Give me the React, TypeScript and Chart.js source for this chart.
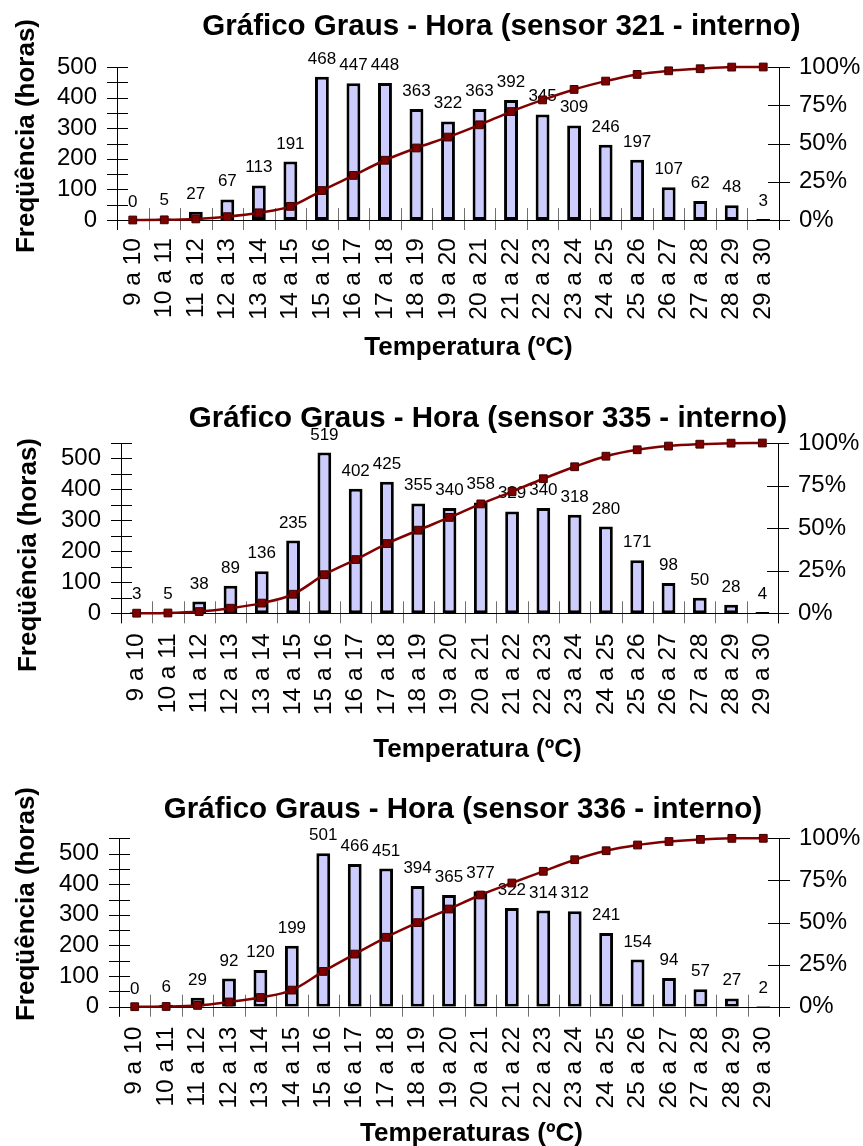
import React, { useEffect, useRef } from "react";
import { Chart, registerables } from "chart.js";
Chart.register(...registerables);

const FONT = "'Liberation Sans', Arial, sans-serif";

const categories = [
  "9 a 10", "10 a 11", "11 a 12", "12 a 13", "13 a 14", "14 a 15", "15 a 16",
  "16 a 17", "17 a 18", "18 a 19", "19 a 20", "20 a 21", "21 a 22", "22 a 23",
  "23 a 24", "24 a 25", "25 a 26", "26 a 27", "27 a 28", "28 a 29", "29 a 30",
];

const freq321 = [0, 5, 27, 67, 113, 191, 468, 447, 448, 363, 322, 363, 392, 345, 309, 246, 197, 107, 62, 48, 3];
const cum321 = [0, 0.11, 0.71, 2.19, 4.69, 8.91, 19.26, 29.14, 39.04, 47.07, 54.19, 62.22, 70.88, 78.51, 85.34, 90.78, 95.14, 97.5, 98.87, 99.93, 100];

const freq335 = [3, 5, 38, 89, 136, 235, 519, 402, 425, 355, 340, 358, 329, 340, 318, 280, 171, 98, 50, 28, 4];
const cum335 = [0.07, 0.18, 1.02, 2.98, 5.99, 11.19, 22.66, 31.55, 40.95, 48.8, 56.31, 64.23, 71.5, 79.02, 86.05, 92.24, 96.02, 98.19, 99.29, 99.91, 100];

const freq336 = [0, 6, 29, 92, 120, 199, 501, 466, 451, 394, 365, 377, 322, 314, 312, 241, 154, 94, 57, 27, 2];
const cum336 = [0, 0.13, 0.77, 2.81, 5.46, 9.86, 20.94, 31.24, 41.21, 49.92, 57.99, 66.33, 73.45, 80.39, 87.29, 92.62, 96.02, 98.1, 99.36, 99.96, 100];

const leftMax = [500, 550, 550];
const rightTickSuffix = "%";
const yAxisTitle = "Freqüência (horas)";
const chartTitles = [
  "Gráfico Graus - Hora (sensor 321 - interno)",
  "Gráfico Graus - Hora (sensor 335 - interno)",
  "Gráfico Graus - Hora (sensor 336 - interno)",
];
const xAxisTitles = ["Temperatura (ºC)", "Temperatura (ºC)", "Temperaturas (ºC)"];

type Spec = {
  title: string;
  xTitle: string;
  freq: number[];
  cum: number[];
  yMax: number;
  top: number;
  height: number;
  labelPad: number;
  area: { left: number; right: number; top: number; bottom: number };
  titleAt: [number, number];
  yTitleAt: [number, number];
  xTitleAt: [number, number];
};

const W = 863;

const specs: Spec[] = [
  {
    title: chartTitles[0], xTitle: xAxisTitles[0], freq: freq321, cum: cum321, yMax: leftMax[0],
    top: 0, height: 380, labelPad: 18,
    area: { left: 117, right: 779, top: 67, bottom: 220 },
    titleAt: [501.5, 35], yTitleAt: [27, 136], xTitleAt: [468.5, 355],
  },
  {
    title: chartTitles[1], xTitle: xAxisTitles[1], freq: freq335, cum: cum335, yMax: leftMax[1],
    top: 380, height: 383, labelPad: 20,
    area: { left: 121, right: 778, top: 63, bottom: 233.3 },
    titleAt: [488, 47], yTitleAt: [29, 175], xTitleAt: [477.5, 377],
  },
  {
    title: chartTitles[2], xTitle: xAxisTitles[2], freq: freq336, cum: cum336, yMax: leftMax[2],
    top: 763, height: 383, labelPad: 20,
    area: { left: 119, right: 779, top: 75.3, bottom: 243.7 },
    titleAt: [463, 55], yTitleAt: [27, 141], xTitleAt: [471.5, 378],
  },
];

function ChartBox({ spec }: { spec: Spec }) {
  const ref = useRef<HTMLCanvasElement>(null);
  useEffect(() => {
    const canvas = ref.current!;
    const s = spec;
    const px = (v: number) => Math.round(v) + 0.5;

    const decor = {
      id: "decor",
      beforeDatasetsDraw(chart: any) {
        const ctx = chart.ctx as CanvasRenderingContext2D;
        const a = chart.chartArea;
        const ys = chart.scales.y;
        const y1s = chart.scales.y1;
        const n = categories.length;
        const cw = (a.right - a.left) / n;
        ctx.save();
        ctx.lineWidth = 1;
        const seg = (x1: number, y1: number, x2: number, y2: number) => {
          ctx.beginPath();
          ctx.moveTo(x1, y1);
          ctx.lineTo(x2, y2);
          ctx.stroke();
        };
        ctx.strokeStyle = "#707070";
        for (let i = 0; i <= n; i++) {
          const x = px(a.left + i * cw);
          seg(x, a.bottom - 12, x, a.bottom + 10);
        }
        ctx.strokeStyle = "#000";
        seg(a.left - 10, px(a.bottom), a.right, px(a.bottom));
        const lx = px(a.left);
        seg(lx, a.top, lx, a.bottom + 10);
        for (const t of ys.ticks) {
          const y = px(ys.getPixelForValue(t.value));
          seg(a.left - 10, y, a.left + 11, y);
        }
        const rx = px(a.right);
        seg(rx, a.top, rx, a.bottom + 10);
        for (const t of y1s.ticks) {
          const y = px(y1s.getPixelForValue(t.value));
          seg(a.right - 11, y, a.right + 11, y);
        }
        ctx.restore();
      },
      afterDatasetDraw(chart: any, args: any) {
        if (args.index !== 1) return;
        const ctx = chart.ctx as CanvasRenderingContext2D;
        const meta = chart.getDatasetMeta(1);
        ctx.save();
        ctx.font = `17px ${FONT}`;
        ctx.fillStyle = "#000";
        ctx.textAlign = "center";
        ctx.textBaseline = "alphabetic";
        meta.data.forEach((el: any, i: number) => {
          ctx.fillText(String(s.freq[i]), el.x, el.y - 13);
        });
        ctx.restore();
      },
      afterDraw(chart: any) {
        const ctx = chart.ctx as CanvasRenderingContext2D;
        ctx.save();
        ctx.fillStyle = "#000";
        ctx.textAlign = "center";
        ctx.textBaseline = "alphabetic";
        ctx.font = `bold 29.5px ${FONT}`;
        ctx.fillText(s.title, s.titleAt[0], s.titleAt[1]);
        ctx.font = `bold 26px ${FONT}`;
        ctx.fillText(s.xTitle, s.xTitleAt[0], s.xTitleAt[1]);
        ctx.textBaseline = "middle";
        ctx.translate(s.yTitleAt[0], s.yTitleAt[1]);
        ctx.rotate(-Math.PI / 2);
        ctx.fillText(yAxisTitle, 0, 0);
        ctx.restore();
      },
    };

    const chart = new Chart(canvas, {
      type: "bar",
      data: {
        labels: categories,
        datasets: [
          {
            type: "line",
            data: s.cum,
            yAxisID: "y1",
            order: 0,
            borderColor: "#800000",
            borderWidth: 2.5,
            tension: 0.35,
            pointStyle: "rect",
            pointRadius: 5.5,
            pointBackgroundColor: "#800000",
            pointBorderColor: "#3a0000",
            pointBorderWidth: 1,
            clip: false,
          } as any,
          {
            type: "bar",
            data: s.freq,
            yAxisID: "y",
            order: 1,
            backgroundColor: "#CCCCFF",
            borderColor: "#000",
            borderWidth: 3,
            borderSkipped: false,
            categoryPercentage: 1,
            barPercentage: 0.44,
          } as any,
        ],
      },
      options: {
        animation: false,
        responsive: false,
        devicePixelRatio: 1,
        layout: { padding: { top: s.area.top, left: 0, right: 0, bottom: 0 } },
        plugins: { legend: { display: false }, tooltip: { enabled: false }, title: { display: false } },
        scales: {
          x: {
            type: "category",
            offset: true,
            grid: { display: false, drawTicks: false },
            border: { display: false },
            ticks: {
              autoSkip: false,
              maxRotation: 90,
              minRotation: 90,
              padding: s.labelPad,
              color: "#000",
              font: { family: FONT, size: 24.5 },
            },
            afterFit: (sc: any) => { sc.height = s.height - s.area.bottom; },
          },
          y: {
            position: "left",
            min: 0,
            max: s.yMax,
            grid: { display: false, drawTicks: false },
            border: { display: false },
            ticks: {
              autoSkip: false,
              stepSize: 50,
              padding: 20,
              color: "#000",
              font: { family: FONT, size: 24 },
              callback: (v: any) => (Number(v) % 100 === 0 ? String(v) : ""),
            },
            afterFit: (sc: any) => { sc.width = s.area.left; },
          },
          y1: {
            position: "right",
            min: 0,
            max: 100,
            grid: { display: false, drawTicks: false },
            border: { display: false },
            ticks: {
              autoSkip: false,
              stepSize: 25,
              padding: 20,
              color: "#000",
              font: { family: FONT, size: 24 },
              callback: (v: any) => `${v}${rightTickSuffix}`,
            },
            afterFit: (sc: any) => { sc.width = W - s.area.right; },
          },
        },
      } as any,
      plugins: [decor],
    });
    return () => chart.destroy();
  }, [spec]);
  return (
    <canvas
      ref={ref}
      width={W}
      height={spec.height}
      style={{ position: "absolute", left: 0, top: spec.top, width: W, height: spec.height }}
    />
  );
}

export default function App() {
  return (
    <div style={{ position: "absolute", left: 0, top: 0, width: W, height: 1146, background: "#fff" }}>
      {specs.map((s, i) => (
        <ChartBox key={i} spec={s} />
      ))}
    </div>
  );
}
